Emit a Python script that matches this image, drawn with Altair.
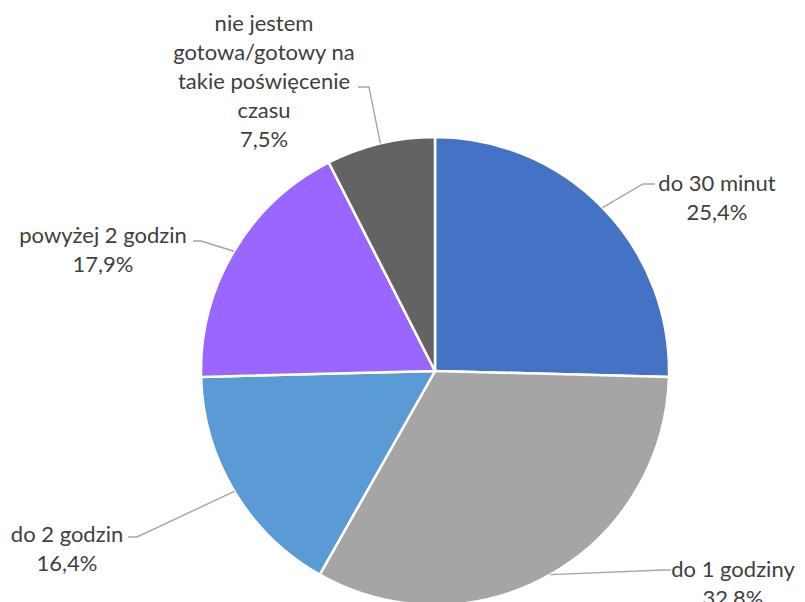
import math
import altair as alt
import pandas as pd

# ---- data ----
categories = ["do 30 minut", "do 1 godziny", "do 2 godzin", "powyżej 2 godzin",
              "nie jestem gotowa/gotowy na takie poświęcenie czasu"]
values = [25.4, 32.8, 16.4, 17.9, 7.5]
label_texts = ["do 30 minut", "do 1 godziny", "do 2 godzin", "powyżej 2 godzin",
               "nie jestem\ngotowa/gotowy na\ntakie poświęcenie\nczasu"]
colors = ["#4472C4", "#A5A5A5", "#5B9BD5", "#9966FF", "#636363"]

# ---- layout (plot-area pixels) ----
CX, CY, R = 427, 363, 234
# label anchors (first line) and leader elbows / ends (layout only)
label_anchor = [(709, 176), (725, 562), (59, 527), (95, 228), (256, 16)]
leader_elbow = [(635, 176), (655, 562), (129, 529), (193, 233), (361, 79)]
leader_end = [(647, 176), (663, 562), (120, 529), (185, 233), (350, 79)]

df = pd.DataFrame({"cat": categories, "value": values, "order": range(len(values))})

total = sum(values)
cum = 0.0
lines_rows = []
text_rows = []
for i, (c, v) in enumerate(zip(categories, values)):
    mid = (cum + v / 2) / total * 2 * math.pi
    cum += v
    ax = CX + R * math.sin(mid)
    ay = CY - R * math.cos(mid)
    pts = [(ax, ay), leader_elbow[i], leader_end[i]]
    for s, (px, py) in enumerate(pts):
        lines_rows.append({"cat": c, "seq": s, "px": px, "py": py})
    pct = f"{v:.1f}".replace(".", ",") + "%"
    text_rows.append({"cat": c, "label": label_texts[i] + "\n" + pct,
                      "tx": label_anchor[i][0], "ty": label_anchor[i][1]})

lines_df = pd.DataFrame(lines_rows)
text_df = pd.DataFrame(text_rows)

pie = alt.Chart(df).mark_arc(radius=R, stroke="white", strokeWidth=2.5).encode(
    theta=alt.Theta("value:Q", stack=True),
    order=alt.Order("order:Q"),
    color=alt.Color("cat:N", scale=alt.Scale(domain=categories, range=colors), legend=None),
    x=alt.value(CX),
    y=alt.value(CY),
)

leaders = alt.Chart(lines_df).mark_line(color="#A6A6A6", strokeWidth=1.4).encode(
    x=alt.X("px:Q", scale=None, axis=None),
    y=alt.Y("py:Q", scale=None, axis=None),
    detail="cat:N",
    order="seq:Q",
)

labels = alt.Chart(text_df).mark_text(
    font="Lato", fontSize=22, color="#404040", lineBreak="\n", lineHeight=29,
    align="center", baseline="middle",
).encode(
    x=alt.X("tx:Q", scale=None, axis=None),
    y=alt.Y("ty:Q", scale=None, axis=None),
    text="label:N",
)

chart = alt.layer(pie, leaders, labels).properties(
    width=789, height=594, padding=0, autosize="none"
).configure_view(stroke=None)

chart.save("out.html", embed_options={"renderer": "svg", "actions": False})
